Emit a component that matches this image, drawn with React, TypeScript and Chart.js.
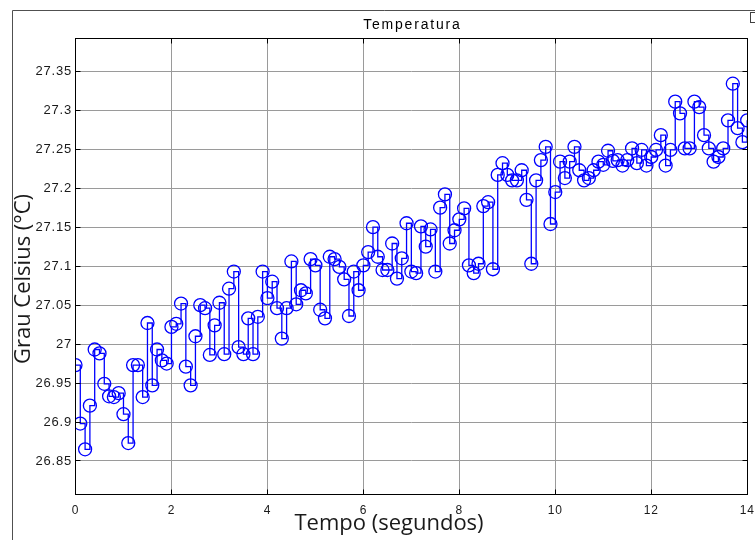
import React, { useEffect, useRef } from 'react';
import { Chart, registerables } from 'chart.js';

Chart.register(...registerables);

// Sample times (seconds)
const times = [
  0.0, 0.1, 0.2, 0.3, 0.4, 0.5, 0.6, 0.7, 0.8, 0.9,
  1.0, 1.1, 1.2, 1.3, 1.4, 1.5, 1.6, 1.7, 1.8, 1.9,
  2.0, 2.1, 2.2, 2.3, 2.4, 2.5, 2.6, 2.7, 2.8, 2.9,
  3.0, 3.1, 3.2, 3.3, 3.4, 3.5, 3.6, 3.7, 3.8, 3.9,
  4.0, 4.1, 4.2, 4.3, 4.4, 4.5, 4.6, 4.7, 4.8, 4.9,
  5.0, 5.1, 5.2, 5.3, 5.4, 5.5, 5.6, 5.7, 5.8, 5.9,
  6.0, 6.1, 6.2, 6.3, 6.4, 6.5, 6.6, 6.7, 6.8, 6.9,
  7.0, 7.1, 7.2, 7.3, 7.4, 7.5, 7.6, 7.7, 7.8, 7.9,
  8.0, 8.1, 8.2, 8.3, 8.4, 8.5, 8.6, 8.7, 8.8, 8.9,
  9.0, 9.1, 9.2, 9.3, 9.4, 9.5, 9.6, 9.7, 9.8, 9.9,
  10.0, 10.1, 10.2, 10.3, 10.4, 10.5, 10.6, 10.7, 10.8, 10.9,
  11.0, 11.1, 11.2, 11.3, 11.4, 11.5, 11.6, 11.7, 11.8, 11.9,
  12.0, 12.1, 12.2, 12.3, 12.4, 12.5, 12.6, 12.7, 12.8, 12.9,
  13.0, 13.1, 13.2, 13.3, 13.4, 13.5, 13.6, 13.7, 13.8, 13.9,
  14.0,
];

// Temperature readings (°C)
const temperatures = [
  26.973, 26.898, 26.865, 26.921, 26.993, 26.988, 26.949, 26.933, 26.932, 26.937,
  26.910, 26.873, 26.973, 26.973, 26.932, 27.027, 26.947, 26.993, 26.979, 26.975,
  27.022, 27.026, 27.052, 26.971, 26.947, 27.010, 27.050, 27.046, 26.986, 27.024,
  27.053, 26.987, 27.071, 27.093, 26.996, 26.987, 27.033, 26.987, 27.035, 27.093,
  27.059, 27.080, 27.046, 27.007, 27.046, 27.106, 27.051, 27.069, 27.065, 27.109,
  27.101, 27.044, 27.033, 27.112, 27.109, 27.099, 27.083, 27.036, 27.093, 27.069,
  27.101, 27.118, 27.150, 27.112, 27.095, 27.095, 27.129, 27.084, 27.110, 27.155,
  27.093, 27.091, 27.151, 27.125, 27.147, 27.093, 27.175, 27.192, 27.129, 27.146,
  27.160, 27.174, 27.101, 27.091, 27.103, 27.177, 27.182, 27.096, 27.217, 27.232,
  27.217, 27.210, 27.210, 27.223, 27.185, 27.103, 27.210, 27.236, 27.253, 27.154,
  27.195, 27.234, 27.213, 27.234, 27.253, 27.223, 27.210, 27.213, 27.223, 27.234,
  27.230, 27.248, 27.235, 27.236, 27.229, 27.236, 27.251, 27.232, 27.249, 27.229,
  27.240, 27.249, 27.268, 27.229, 27.249, 27.311, 27.296, 27.251, 27.251, 27.311,
  27.304, 27.268, 27.251, 27.234, 27.240, 27.251, 27.287, 27.334, 27.277, 27.259,
  27.287,
];

const xTickValues = [0, 2, 4, 6, 8, 10, 12, 14];
const xTickLabels = ['0', '2', '4', '6', '8', '10', '12', '14'];
const yTickValues = [26.85, 26.9, 26.95, 27.0, 27.05, 27.1, 27.15, 27.2, 27.25, 27.3, 27.35];
const yTickLabels = ['26.85', '26.9', '26.95', '27', '27.05', '27.1', '27.15', '27.2', '27.25', '27.3', '27.35'];

const chartTitle = 'Temperatura';
const xAxisTitle = 'Tempo (segundos)';
const yAxisTitle = 'Grau Celsius (°C)';

const xMin = 0;
const xMax = 14;
const yMin = 26.807;
const yMax = 27.392;

const tickFont = '"Liberation Sans", Arial, Helvetica, sans-serif';
const labelFont = '"Open Sans", "Noto Sans", sans-serif';

const align = (p: number) => Math.round(p - 0.5) + 0.5;

const decorPlugin = {
  id: 'decor',
  beforeDraw(chart: any) {
    const ctx = chart.ctx as any;
    ctx.save();
    ctx.fillStyle = '#ffffff';
    ctx.fillRect(0, 0, chart.width, chart.height);
    ctx.strokeStyle = '#505050';
    ctx.lineWidth = 1;
    ctx.beginPath();
    ctx.moveTo(12.5, chart.height + 2);
    ctx.lineTo(12.5, 10.5);
    ctx.lineTo(chart.width + 2, 10.5);
    ctx.stroke();
    ctx.strokeStyle = '#404040';
    ctx.strokeRect(750.5, 12.5, 8, 10);
    ctx.restore();
    // slightly wider glyph spacing for tick labels, like the original renderer
    ctx.letterSpacing = '0.8px';
  },
  afterDraw(chart: any) {
    const ctx = chart.ctx as any;
    ctx.letterSpacing = '0px';
    const a = chart.chartArea;
    const xs = chart.scales.x;
    const ys = chart.scales.y;
    const L = align(a.left);
    const R = align(a.right);
    const T = align(a.top);
    const B = align(a.bottom);
    ctx.save();
    ctx.strokeStyle = '#000000';
    ctx.lineWidth = 1;
    ctx.strokeRect(L, T, R - L, B - T);
    ctx.beginPath();
    const tl = 5;
    xTickValues.forEach((v) => {
      const px = align(xs.getPixelForValue(v));
      ctx.moveTo(px, B);
      ctx.lineTo(px, B - tl);
      ctx.moveTo(px, T);
      ctx.lineTo(px, T + tl);
    });
    yTickValues.forEach((v) => {
      const py = align(ys.getPixelForValue(v));
      ctx.moveTo(L, py);
      ctx.lineTo(L + tl, py);
      ctx.moveTo(R, py);
      ctx.lineTo(R - tl, py);
    });
    ctx.stroke();

    ctx.fillStyle = '#000000';
    ctx.textAlign = 'center';
    ctx.textBaseline = 'middle';
    ctx.font = `14px ${tickFont}`;
    ctx.letterSpacing = '1.8px';
    ctx.fillText(chartTitle, (a.left + a.right) / 2 + 1, 25);
    ctx.letterSpacing = '0px';

    ctx.fillStyle = '#1a1a1a';
    ctx.font = `22px ${labelFont}`;
    ctx.fillText(xAxisTitle, 389, 524);

    ctx.save();
    ctx.translate(24, 279);
    ctx.rotate(-Math.PI / 2);
    ctx.fillText(yAxisTitle, 0, 0);
    ctx.restore();
    ctx.restore();
  },
};

export default function App() {
  const canvasRef = useRef<HTMLCanvasElement>(null);

  useEffect(() => {
    document.body.style.margin = '0';
    const canvas = canvasRef.current;
    if (!canvas) return;
    const points = times.map((t, i) => ({ x: t, y: temperatures[i] }));
    const chart = new Chart(canvas, {
      type: 'line',
      data: {
        datasets: [
          {
            data: points,
            borderColor: '#0000ff',
            borderWidth: 1.3,
            stepped: 'before',
            fill: false,
            pointStyle: 'circle',
            pointRadius: 6.5,
            pointBorderWidth: 1.3,
            pointBorderColor: '#0000ff',
            pointBackgroundColor: 'rgba(0,0,0,0)',
            clip: 0,
          } as any,
        ],
      },
      options: {
        responsive: false,
        animation: false,
        devicePixelRatio: 1,
        layout: { padding: { left: 0, top: 38.5, right: 4.5, bottom: 0 } },
        plugins: {
          legend: { display: false },
          title: { display: false },
          tooltip: { enabled: false },
        },
        scales: {
          x: {
            type: 'linear',
            min: xMin,
            max: xMax,
            afterBuildTicks: (s: any) => {
              s.ticks = xTickValues.map((v) => ({ value: v }));
            },
            afterFit: (s: any) => {
              s.height = 45.5;
              s.paddingLeft = 0;
              s.paddingRight = 0;
            },
            grid: { color: '#9a9a9a', lineWidth: 1, drawTicks: false },
            border: { display: false },
            ticks: {
              padding: 9,
              color: '#1a1a1a',
              maxRotation: 0,
              autoSkip: false,
              font: { family: tickFont, size: 12 },
              callback: (_v: any, i: number) => xTickLabels[i],
            },
          },
          y: {
            type: 'linear',
            min: yMin,
            max: yMax,
            afterBuildTicks: (s: any) => {
              s.ticks = yTickValues.map((v) => ({ value: v }));
            },
            afterFit: (s: any) => {
              s.width = 75.5;
              s.paddingTop = 0;
              s.paddingBottom = 0;
            },
            grid: { color: '#9a9a9a', lineWidth: 1, drawTicks: false },
            border: { display: false },
            ticks: {
              padding: 3.5,
              color: '#1a1a1a',
              autoSkip: false,
              font: { family: tickFont, size: 13 },
              callback: (_v: any, i: number) => yTickLabels[i],
            },
          },
        },
      },
      plugins: [decorPlugin],
    });
    return () => chart.destroy();
  }, []);

  return (
    <div style={{ position: 'fixed', left: 0, top: 0, width: 755, height: 540, background: '#ffffff' }}>
      <canvas ref={canvasRef} width={755} height={540} style={{ display: 'block', width: 755, height: 540 }} />
    </div>
  );
}
